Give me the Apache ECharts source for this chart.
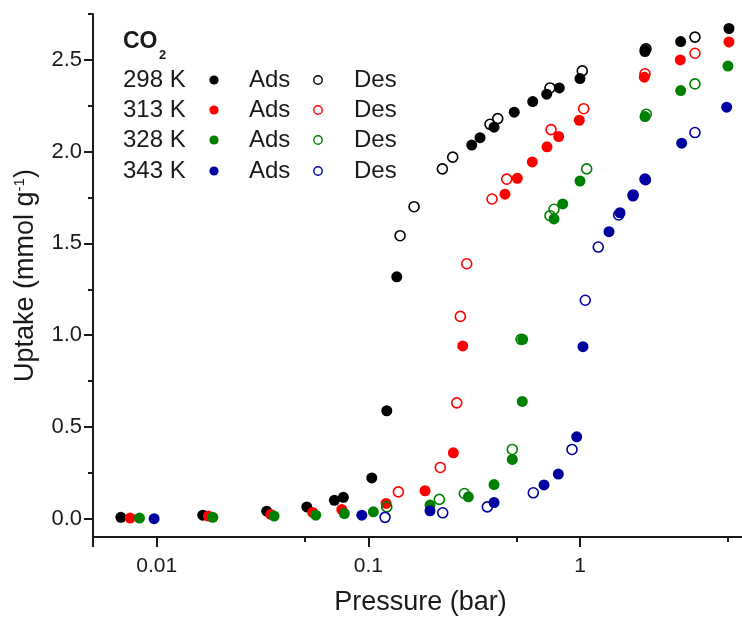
<!DOCTYPE html>
<html>
<head>
<meta charset="utf-8">
<script src="https://cdn.jsdelivr.net/npm/echarts@6/dist/echarts.min.js"></script>
<style>
  html, body { margin: 0; padding: 0; background: #ffffff; }
  #chart { width: 742px; height: 620px; }
</style>
</head>
<body>
<div id="chart"></div>
<script>
// CO2 uptake isotherms, pressure in bar, uptake in mmol/g
const temps = ['298 K', '313 K', '328 K', '343 K'];
const colors = ['#000000', '#ff0000', '#008000', '#0000a0'];

const ads298P = [0.00677, 0.0165, 0.0331, 0.0512, 0.0691, 0.0762, 0.1038, 0.1222, 0.1362, 0.308, 0.337, 0.3925, 0.489, 0.598, 0.696, 0.7985, 1.0, 2.028, 2.028, 2.99, 5.056];
const ads298U = [0.007, 0.019, 0.041, 0.064, 0.100, 0.116, 0.222, 0.588, 1.318, 2.036, 2.076, 2.133, 2.215, 2.273, 2.313, 2.347, 2.398, 2.555, 2.545, 2.600, 2.671];
const des298P = [0.1412, 0.1644, 0.2237, 0.2504, 0.3757, 0.4086, 0.7216, 1.025, 2.05, 3.493];
const des298U = [1.542, 1.700, 1.906, 1.970, 2.149, 2.180, 2.347, 2.440, 2.560, 2.624];

const ads313P = [0.00749, 0.01754, 0.0346, 0.0546, 0.0749, 0.1213, 0.1853, 0.2521, 0.2792, 0.4422, 0.5056, 0.5951, 0.6984, 0.7931, 0.9924, 2.013, 2.977, 5.056];
const ads313U = [0.003, 0.014, 0.023, 0.034, 0.050, 0.083, 0.152, 0.359, 0.941, 1.768, 1.855, 1.944, 2.026, 2.082, 2.171, 2.406, 2.500, 2.598];
const des313P = [0.1386, 0.2188, 0.2616, 0.2720, 0.2916, 0.3840, 0.4505, 0.7295, 1.041, 2.028, 3.493];
const des313U = [0.146, 0.279, 0.631, 1.102, 1.389, 1.742, 1.850, 2.120, 2.234, 2.424, 2.536];

const ads328P = [0.00829, 0.01841, 0.03586, 0.05644, 0.07703, 0.1056, 0.1956, 0.2968, 0.3925, 0.4788, 0.5338, 0.5362, 0.7537, 0.8285, 1.0, 2.028, 2.99, 5.002];
const ads328U = [0.003, 0.007, 0.014, 0.019, 0.028, 0.037, 0.074, 0.119, 0.186, 0.323, 0.639, 0.977, 1.633, 1.715, 1.840, 2.191, 2.333, 2.466];
const des328P = [0.1222, 0.2164, 0.2841, 0.4788, 0.5265, 0.7216, 0.7537, 1.0756, 2.057, 3.493];
const des328U = [0.064, 0.105, 0.137, 0.377, 0.977, 1.651, 1.686, 1.906, 2.204, 2.369];

const ads343P = [0.00972, 0.0931, 0.1956, 0.3925, 0.6759, 0.7899, 0.9647, 1.033, 1.371, 1.545, 1.780, 2.043, 3.023, 4.931];
const ads343U = [0.000, 0.019, 0.043, 0.088, 0.184, 0.243, 0.446, 0.937, 1.564, 1.667, 1.758, 1.846, 2.046, 2.242];
const des343P = [0.1199, 0.2246, 0.3649, 0.6016, 0.9167, 1.059, 1.220, 1.523, 1.783, 2.028, 3.493];
const des343U = [0.007, 0.032, 0.064, 0.141, 0.377, 1.190, 1.480, 1.655, 1.764, 1.850, 2.104];

const xTickLabels = ['0.01', '0.1', '1'];
const yTickValues = [0, 0.5, 1.0, 1.5, 2.0, 2.5];
const yMinorTickValues = [0.25, 0.75, 1.25, 1.75, 2.25, 2.75];

const adsP = [ads298P, ads313P, ads328P, ads343P];
const adsU = [ads298U, ads313U, ads328U, ads343U];
const desP = [des298P, des313P, des328P, des343P];
const desU = [des298U, des313U, des328U, des343U];

const FONT = '"Liberation Sans", Arial, sans-serif';
const TEXT = '#1a1a1a';
const AXIS = '#1a1a1a';
const X_MIN = 0.005, X_MAX = 6.22;
const Y_MIN = -0.1, Y_MAX = 2.75;

const pairs = (xs, ys) => xs.map((x, i) => [x, ys[i]]);

const series = [];
temps.forEach((t, i) => {
  series.push({
    name: t + ' Ads', type: 'scatter', xAxisIndex: 0, yAxisIndex: 0,
    symbol: 'circle', symbolSize: 11,
    itemStyle: { color: colors[i], opacity: 1 },
    data: pairs(adsP[i], adsU[i]), z: 3
  });
  series.push({
    name: t + ' Des', type: 'scatter', xAxisIndex: 0, yAxisIndex: 0,
    symbol: 'circle', symbolSize: 10,
    itemStyle: { color: 'rgba(255,255,255,0)', borderColor: colors[i], borderWidth: 1.6, opacity: 1 },
    data: pairs(desP[i], desU[i]), z: 4
  });
});

// key block: gas label, then one row per temperature
const rowY = [80, 110, 140, 171];
const keyText = (text, x, y, size, bold) => ({
  type: 'text', x: x, y: y, z: 10,
  style: { text: text, fontSize: size, fontWeight: bold ? 'bold' : 'normal', fill: TEXT, fontFamily: FONT, verticalAlign: 'middle' }
});
const graphics = [keyText('CO', 123, 42, 23, true), keyText('2', 159, 55, 13, true)];
temps.forEach((t, i) => {
  const y = rowY[i];
  graphics.push(keyText(t, 123, y, 24, false));
  graphics.push({ type: 'circle', z: 10, shape: { cx: 214, cy: y, r: 4.6 }, style: { fill: colors[i], stroke: null } });
  graphics.push(keyText('Ads', 249, y, 24, false));
  graphics.push({ type: 'circle', z: 10, shape: { cx: 318, cy: y, r: 4.2 }, style: { fill: null, stroke: colors[i], lineWidth: 1.4 } });
  graphics.push(keyText('Des', 354, y, 24, false));
});

const option = {
  backgroundColor: '#ffffff',
  animation: false,
  grid: { left: 93, right: -6, top: 14, bottom: 83, containLabel: false, outerBoundsMode: 'none' },
  xAxis: [
    {
      type: 'log', logBase: 10, min: X_MIN, max: X_MAX, position: 'bottom',
      name: 'Pressure (bar)', nameLocation: 'middle', nameGap: 52,
      nameTextStyle: { fontSize: 27, color: TEXT, fontFamily: FONT },
      axisLine: { show: true, onZero: false, lineStyle: { color: AXIS, width: 2 } },
      axisTick: { show: true, inside: false, length: 10, lineStyle: { color: AXIS, width: 2 } },
      axisLabel: {
        show: true, margin: 19, fontSize: 21, color: TEXT, fontFamily: FONT,
        formatter: v => {
          const s = String(+v.toPrecision(6));
          return xTickLabels.indexOf(s) >= 0 ? s : '';
        }
      },
      splitLine: { show: false }
    },
    {
      // half-decade ticks at 0.005, 0.05, 0.5, 5 (same axis scaled by 2)
      type: 'log', logBase: 10, min: X_MIN * 2, max: X_MAX * 2, position: 'bottom', offset: 0,
      axisLine: { show: false, onZero: false },
      axisTick: { show: true, inside: false, length: 5, lineStyle: { color: AXIS, width: 2 } },
      axisLabel: { show: false },
      splitLine: { show: false }
    }
  ],
  yAxis: [
    {
      type: 'value', min: Y_MIN, max: Y_MAX, position: 'left',
      name: 'Uptake (mmol g{sup|-1})', nameLocation: 'middle', nameGap: 54,
      nameTextStyle: {
        fontSize: 27, color: TEXT, fontFamily: FONT,
        rich: { sup: { fontSize: 15, color: TEXT, fontFamily: FONT, verticalAlign: 'top', padding: [0, 0, 11, 0] } }
      },
      axisLine: { show: true, onZero: false, lineStyle: { color: AXIS, width: 2 } },
      axisTick: { show: true, inside: false, length: 9, customValues: yTickValues, lineStyle: { color: AXIS, width: 2 } },
      axisLabel: {
        show: true, margin: 11, fontSize: 22, color: TEXT, fontFamily: FONT,
        customValues: yTickValues,
        formatter: v => v.toFixed(1)
      },
      splitLine: { show: false }
    },
    {
      type: 'value', min: Y_MIN, max: Y_MAX, position: 'left', offset: 0,
      axisLine: { show: false, onZero: false },
      axisTick: { show: true, inside: false, length: 5, customValues: yMinorTickValues, lineStyle: { color: AXIS, width: 2 } },
      axisLabel: { show: false },
      splitLine: { show: false }
    }
  ],
  graphic: graphics,
  series: series
};

const chart = echarts.init(document.getElementById('chart'), null, { renderer: 'canvas' });
chart.setOption(option);
</script>
</body>
</html>
